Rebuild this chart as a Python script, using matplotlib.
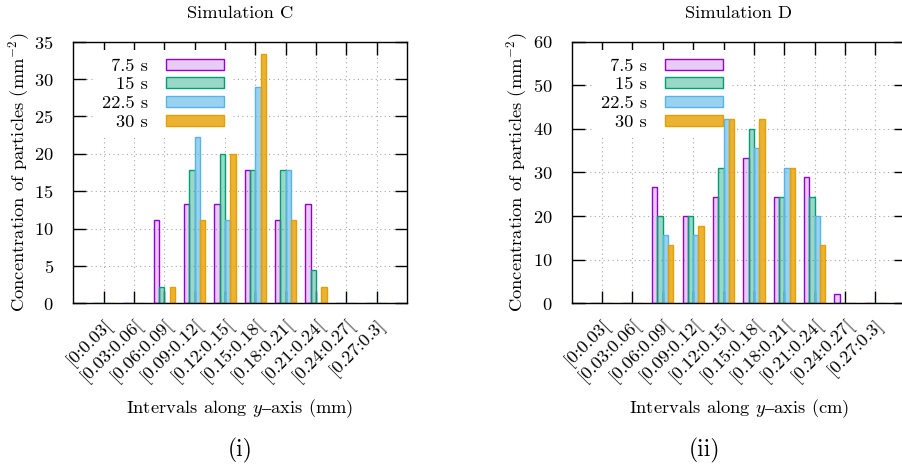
import numpy as np
import matplotlib
matplotlib.use("Agg")
import matplotlib.pyplot as plt
from matplotlib.colors import to_rgba

plt.rcParams['font.family'] = ['cmr10', 'DejaVu Serif']
plt.rcParams['mathtext.fontset'] = 'cm'
plt.rcParams['axes.formatter.use_mathtext'] = True
plt.rcParams['axes.unicode_minus'] = False

intervals = ["[0:0.03[", "[0.03:0.06[", "[0.06:0.09[", "[0.09:0.12[", "[0.12:0.15[",
             "[0.15:0.18[", "[0.18:0.21[", "[0.21:0.24[", "[0.24:0.27[", "[0.27:0.3]"]
series_labels = ["7.5 s", "15 s", "22.5 s", "30 s"]

c_75 = [0, 0, 11.11, 13.33, 13.33, 17.78, 11.11, 13.33, 0, 0]
c_15 = [0, 0, 2.22, 17.78, 20.00, 17.78, 17.78, 4.44, 0, 0]
c_225 = [0, 0, 0, 22.22, 11.11, 28.89, 17.78, 0, 0, 0]
c_30 = [0, 0, 2.22, 11.11, 20.00, 33.33, 11.11, 2.22, 0, 0]

d_75 = [0, 0, 26.67, 20.00, 24.44, 33.33, 24.44, 28.89, 2.22, 0]
d_15 = [0, 0, 20.00, 20.00, 31.11, 40.00, 24.44, 24.44, 0, 0]
d_225 = [0, 0, 15.56, 15.56, 42.22, 35.56, 31.11, 20.00, 0, 0]
d_30 = [0, 0, 13.33, 17.78, 42.22, 42.22, 31.11, 13.33, 0, 0]

colors = ["#9400d3", "#009e73", "#56b4e9", "#e69f00"]
alphas = [0.2, 0.4, 0.6, 0.8]

FS = 13.3

fig = plt.figure(figsize=(9.02, 4.66), dpi=100)
W, H = 902.0, 466.0


def make_axes(left_px, right_px, top_px, bottom_px):
    return fig.add_axes([left_px / W, 1 - bottom_px / H,
                         (right_px - left_px) / W, (bottom_px - top_px) / H])


def draw(ax, data, ymax, ystep, title, xlabel, unit):
    x = np.arange(len(intervals))
    w = 0.175
    for i, (vals, c, a, lab) in enumerate(zip(data, colors, alphas, series_labels)):
        ax.bar(x + (i - 1.5) * w, vals, width=w, facecolor=to_rgba(c, a),
               edgecolor=c, linewidth=1.0, label=lab, zorder=2)
    ax.set_xlim(-1, 10)
    ax.set_ylim(0, ymax)
    ax.set_yticks(np.arange(0, ymax + 0.1, ystep))
    ax.set_xticks(x)
    ax.set_xticklabels(intervals, rotation=45, ha='right', va='top',
                       rotation_mode='anchor', fontsize=FS)
    ax.tick_params(axis='both', direction='in', length=9, width=1.0,
                   top=True, right=True, labelsize=FS)
    ax.tick_params(axis='y', pad=14)
    ax.tick_params(axis='x', pad=9)
    ax.set_axisbelow(True)
    ax.grid(True, linestyle=(0, (1, 3)), color='#a8a8a8', linewidth=0.8)
    for s in ax.spines.values():
        s.set_linewidth(1.0)
        s.set_zorder(2.5)
    ax.set_title(title, fontsize=FS, pad=17)
    ax.set_xlabel(xlabel, fontsize=FS)
    ax.xaxis.set_label_coords(0.5, -0.36)
    ax.set_ylabel("Concentration of particles (" + unit + "$^{-2}$)", fontsize=FS,
                  va='center')
    ax.yaxis.set_label_coords(-0.163, 0.5)
    leg = ax.legend(loc='upper right', bbox_to_anchor=(0.477, 0.968),
                    markerfirst=False, frameon=True, fancybox=False,
                    facecolor='white', edgecolor='none', framealpha=1.0,
                    fontsize=FS, handlelength=3.14, handleheight=0.54,
                    handletextpad=0.97, labelspacing=0.18, borderpad=0.45,
                    borderaxespad=0)
    leg.set_zorder(1.5)


ax1 = make_axes(73.3, 407.0, 41.7, 303.3)
draw(ax1, [c_75, c_15, c_225, c_30], 35, 5, "Simulation C",
     "Intervals along $y$" + "$\u2013$" + "axis (mm)", "mm")

ax2 = make_axes(571.7, 905.7, 41.7, 303.3)
draw(ax2, [d_75, d_15, d_225, d_30], 60, 10, "Simulation D",
     "Intervals along $y$" + "$\u2013$" + "axis (cm)", "mm")

fig.text(239.7 / W, 1 - 450 / H, "(i)", fontsize=17, ha='center', va='center')
fig.text(704.5 / W, 1 - 450 / H, "(ii)", fontsize=17, ha='center', va='center')

fig.savefig("out.png", dpi=100)
